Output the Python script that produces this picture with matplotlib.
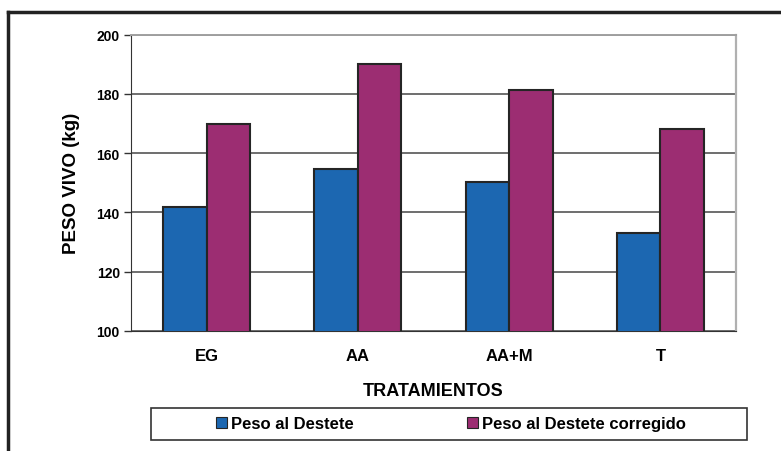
import numpy as np
import matplotlib.pyplot as plt
from matplotlib.lines import Line2D
from matplotlib.patches import Rectangle, Patch

# pesos medios por tratamiento (kg)
tratamientos = ["EG", "AA", "AA+M", "T"]
peso_destete = [142, 154.6, 150.2, 133]
peso_corregido = [170, 190, 181.3, 168.2]
series = ["Peso al Destete", "Peso al Destete corregido"]

azul = "#1c67b1"
morado = "#9c2d72"
borde = "#252525"

plt.rcParams['font.family'] = ['Liberation Sans', 'DejaVu Sans']
plt.rcParams['font.weight'] = 'bold'

fig = plt.figure(figsize=(7.81, 4.52), dpi=100)
ax = fig.add_axes([0.1677, 0.2655, 0.7747, 0.6555])

x = np.arange(len(tratamientos))
w = 0.287
ax.bar(x - w/2, peso_destete, w, color=azul, edgecolor=borde, linewidth=1.5, zorder=3)
ax.bar(x + w/2, peso_corregido, w, color=morado, edgecolor=borde, linewidth=1.5, zorder=3)

ax.set_xlim(-0.5, 3.5)
ax.set_ylim(100, 200)
ax.set_yticks(np.arange(100, 201, 20))
ax.set_xticks(x)
ax.set_xticklabels(tratamientos, fontsize=12, fontweight='bold')
ax.tick_params(axis='x', length=0, pad=12)
ax.tick_params(axis='y', length=5, width=1, color='#333333', labelsize=10, pad=3)
for lb in ax.get_yticklabels():
    lb.set_fontweight('bold')
ax.yaxis.grid(True, color='#555555', linewidth=1.2, zorder=0)

ax.spines['left'].set_color('#333333')
ax.spines['bottom'].set_color('#333333')
ax.spines['top'].set_color('#a0a0a0')
ax.spines['right'].set_color('#b0b0b0')
ax.spines['right'].set_linewidth(1.6)
ax.spines['top'].set_linewidth(1.4)

ax.set_ylabel("PESO VIVO (kg)", fontsize=13.5, fontweight='bold', labelpad=12)
ax.set_xlabel("TRATAMIENTOS", fontsize=13, fontweight='bold', labelpad=14)

# marco exterior
fig.add_artist(Line2D([0.0102, 1.0], [1 - 13/452, 1 - 13/452], color='#222222', linewidth=2.5))
fig.add_artist(Line2D([0.0102, 0.0102], [0, 1 - 13/452], color='#222222', linewidth=2.5))

# caja de la leyenda
fig.add_artist(Rectangle((151/781, 1 - 441/452), (747 - 151)/781, 32/452,
                         transform=fig.transFigure, fill=False, edgecolor='#333333', linewidth=1.2))
handles = [Patch(facecolor=azul, edgecolor=borde, linewidth=0.8),
           Patch(facecolor=morado, edgecolor=borde, linewidth=0.8)]
fig.legend(handles, series, loc='center', bbox_to_anchor=(451/781, 1 - 425/452), ncol=2,
           frameon=False, handlelength=0.65, handleheight=0.65,
           handletextpad=0.25, columnspacing=6.8, prop={'weight': 'bold', 'size': 12})

fig.savefig("out.png", dpi=100)
